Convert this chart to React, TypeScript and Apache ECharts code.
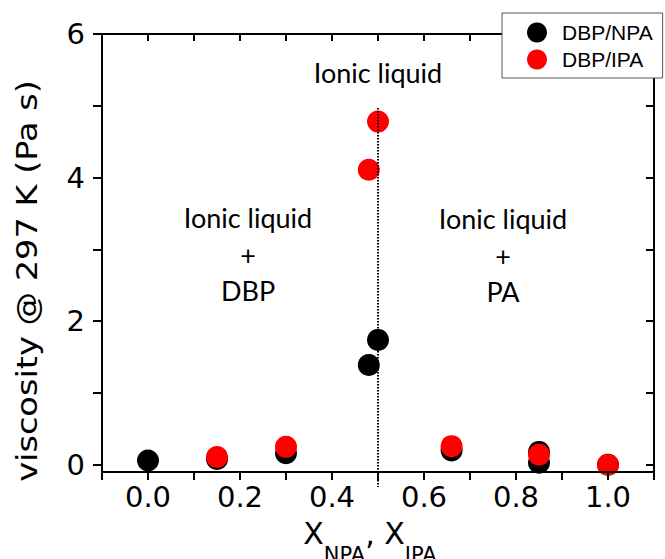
import React, { useEffect, useRef } from "react";
import * as echarts from "echarts";

// DBP/NPA mixture (black)
const npaX = [0.0, 0.15, 0.3, 0.48, 0.5, 0.66, 0.85, 0.85, 1.0];
const npaY = [0.06, 0.08, 0.16, 1.39, 1.74, 0.2, 0.18, 0.03, 0.0];
// DBP/IPA mixture (red)
const ipaX = [0.15, 0.3, 0.48, 0.5, 0.66, 0.85, 1.0];
const ipaY = [0.11, 0.25, 4.11, 4.78, 0.26, 0.14, 0.0];

const seriesNames = ["DBP/NPA", "DBP/IPA"];

const xTickValues = [-0.1, 0, 0.1, 0.2, 0.3, 0.4, 0.5, 0.6, 0.7, 0.8, 0.9, 1.0, 1.1];
const xLabelValues = [0, 0.2, 0.4, 0.6, 0.8, 1.0];
const yTickValues = [0, 1, 2, 3, 4, 5, 6];
const yLabelValues = [0, 2, 4, 6];

// dotted boundary at the ionic-liquid composition
const boundaryX = [0.5, 0.5];
const boundaryY = [4.97, -0.31];

const yTitle = "viscosity @ 297 K (Pa s)";
const topNote = "Ionic liquid";
const leftNote = "Ionic liquid\n+\nDBP";
const rightNote = "Ionic liquid\n+\nPA";

export default function App() {
  const ref = useRef<HTMLDivElement>(null);
  useEffect(() => {
    document.body.style.margin = "0";
    const chart = echarts.init(ref.current!, null, { renderer: "svg" });
    const axisFont = "DejaVu Sans";
    const noteStyle = {
      fontFamily: "Lato",
      fontSize: 27,
      fill: "#000",
      align: "center",
      verticalAlign: "middle",
      lineHeight: 36.5,
    };
    chart.setOption({
      animation: false,
      backgroundColor: "#fff",
      grid: { left: 102, right: 11, top: 34, bottom: 87, containLabel: false },
      legend: {
        left: 502,
        top: 13,
        orient: "vertical",
        data: seriesNames,
        icon: "circle",
        itemWidth: 20,
        itemHeight: 20,
        itemGap: 6,
        padding: [9, 10, 8, 25],
        borderColor: "#555",
        borderWidth: 1,
        backgroundColor: "#fff",
        textStyle: {
          fontFamily: "Liberation Sans",
          fontSize: 21,
          color: "#000",
          padding: [0, 0, 0, 10],
        },
      },
      xAxis: [
        {
          type: "value",
          position: "bottom",
          min: -0.1,
          max: 1.1,
          z: 5,
          axisLine: { onZero: false, lineStyle: { color: "#000", width: 2 } },
          axisTick: {
            inside: false,
            length: 8,
            customValues: xTickValues,
            lineStyle: { color: "#000", width: 2 },
          },
          axisLabel: {
            customValues: xLabelValues,
            formatter: (v: number) => v.toFixed(1),
            fontFamily: axisFont,
            fontSize: 29,
            color: "#000",
            margin: 10,
          },
          splitLine: { show: false },
        },
        {
          type: "value",
          position: "top",
          min: -0.1,
          max: 1.1,
          axisLine: { onZero: false, lineStyle: { color: "#000", width: 2 } },
          axisTick: {
            inside: true,
            length: 7,
            customValues: xTickValues,
            lineStyle: { color: "#000", width: 2 },
          },
          axisLabel: { show: false },
          splitLine: { show: false },
        },
      ],
      yAxis: [
        {
          type: "value",
          position: "left",
          min: -0.1,
          max: 6,
          axisLine: { show: true, onZero: false, lineStyle: { color: "#000", width: 2 } },
          axisTick: {
            show: true,
            inside: false,
            length: 9,
            customValues: yTickValues,
            lineStyle: { color: "#000", width: 2 },
          },
          axisLabel: {
            customValues: yLabelValues,
            formatter: (v: number) => String(Math.round(v)),
            fontFamily: axisFont,
            fontSize: 29,
            color: "#000",
            margin: 17,
          },
          splitLine: { show: false },
        },
        {
          type: "value",
          position: "right",
          min: -0.1,
          max: 6,
          axisLine: { show: true, onZero: false, lineStyle: { color: "#000", width: 2 } },
          axisTick: {
            show: true,
            inside: true,
            length: 8,
            customValues: yTickValues,
            lineStyle: { color: "#000", width: 2 },
          },
          axisLabel: { show: false },
          splitLine: { show: false },
        },
      ],
      series: [
        {
          name: seriesNames[0],
          type: "scatter",
          symbol: "circle",
          symbolSize: 22,
          itemStyle: { color: "#000", opacity: 1 },
          emphasis: { disabled: true },
          data: npaX.map((x, i) => [x, npaY[i]]),
        },
        {
          name: seriesNames[1],
          type: "scatter",
          symbol: "circle",
          symbolSize: 22,
          itemStyle: { color: "#ff0000", opacity: 1 },
          emphasis: { disabled: true },
          data: ipaX.map((x, i) => [x, ipaY[i]]),
        },
        {
          name: "boundary",
          type: "line",
          clip: false,
          silent: true,
          symbol: "none",
          showSymbol: false,
          lineStyle: { color: "#000", width: 2, type: [1.5, 1.5] },
          data: boundaryX.map((x, i) => [x, boundaryY[i]]),
          z: 4,
        },
      ],
      graphic: [
        {
          type: "text",
          x: 27,
          y: 281,
          rotation: Math.PI / 2,
          scaleX: 1.2,
          style: {
            text: yTitle,
            fontFamily: axisFont,
            fontSize: 28,
            fill: "#000",
            align: "center",
            verticalAlign: "middle",
          },
        },
        {
          type: "text",
          x: 370,
          y: 518,
          style: {
            text: "{m|X}{s|NPA}{m|, X}{s|IPA}",
            align: "center",
            verticalAlign: "top",
            fill: "#000",
            rich: {
              m: { fontFamily: axisFont, fontSize: 30, lineHeight: 30, verticalAlign: "top", fill: "#000" },
              s: { fontFamily: axisFont, fontSize: 21, lineHeight: 21, verticalAlign: "top", padding: [26, 0, 0, 0], fill: "#000" },
            },
          },
        },
        { type: "text", x: 378, y: 72, style: { ...noteStyle, text: topNote } },
        { type: "text", x: 248, y: 254, style: { ...noteStyle, text: leftNote } },
        { type: "text", x: 503, y: 255, style: { ...noteStyle, text: rightNote } },
      ],
    });
    return () => chart.dispose();
  }, []);
  return (
    <div
      ref={ref}
      style={{ position: "fixed", left: 0, top: 0, width: 665, height: 559 }}
    />
  );
}
